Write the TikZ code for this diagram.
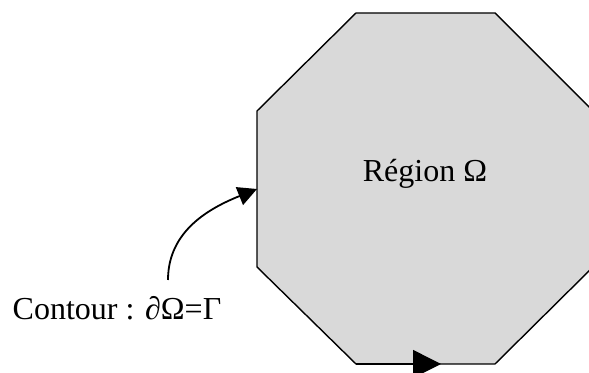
\documentclass[tikz,border=0pt]{standalone}
\usepackage{fontspec}
\setmainfont{Liberation Serif}
\usepackage{tikz}
\usetikzlibrary{arrows.meta, positioning, calc}
\definecolor{regiongray}{HTML}{D9D9D9}

\begin{document}
\begin{tikzpicture}[
    x=0.5pt, y=0.5pt,
    region/.style={draw=black, line width=0.7pt, fill=regiongray, line join=miter},
    label/.style={font=\fontsize{16}{19}\selectfont, inner sep=0pt, anchor=base},
    contourarrow/.style={line width=0.9pt, -{Triangle[length=9.5pt, width=9.5pt]}},
    edgearrow/.style={line width=0.7pt, -{Triangle[length=14pt, width=14pt]}}
]
\useasboundingbox (0,0) rectangle (589,373);

% Ecken
\coordinate (p1) at (356,360);
\coordinate (p2) at (495,360);
\coordinate (p3) at (594,261);
\coordinate (p4) at (594,107);
\coordinate (p5) at (495,9);
\coordinate (p6) at (356,9);
\coordinate (p7) at (257,106);
\coordinate (p8) at (257,262);

% Region
\draw[region] (p1) -- (p2) -- (p3) -- (p4) -- (p5) -- (p6) -- (p7) -- (p8) -- cycle;
\draw[edgearrow] (p6) -- (441,9);

% Texte
\node[label] (omega) at (425,191) {Région Ω};
\node[label] (contour) at (117,53) {Contour : ∂Ω=Γ};

% Pfeil zum Rand
\coordinate (cstart) at (168,93);
\coordinate (ctip) at (257,184);
\draw[contourarrow] (cstart) to[out=90, in=202] (ctip);

\end{tikzpicture}
\end{document}
